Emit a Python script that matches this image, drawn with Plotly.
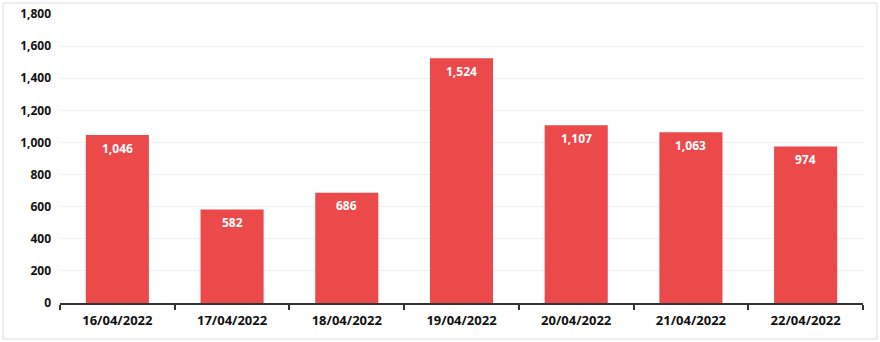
import plotly.graph_objects as go

dates = ["16/04/2022", "17/04/2022", "18/04/2022", "19/04/2022", "20/04/2022", "21/04/2022", "22/04/2022"]
values = [1046, 582, 686, 1524, 1107, 1063, 974]
y_ticks = [0, 200, 400, 600, 800, 1000, 1200, 1400, 1600, 1800]

W, H = 880, 342
ml, mr, mt, mb = 60, 17, 14, 39
pw, ph = W - ml - mr, H - mt - mb

fig = go.Figure(go.Bar(
    x=dates, y=values,
    marker=dict(color="#EC494B", line=dict(width=0)),
    width=0.55,
    hoverinfo="skip",
))

for d, v in zip(dates, values):
    fig.add_annotation(
        x=d, y=v, text=f"{v:,}", showarrow=False,
        yanchor="middle", yshift=-13,
        font=dict(color="white", size=12, family="Open Sans", weight="bold"),
    )

fig.update_layout(
    width=W, height=H,
    margin=dict(l=ml, r=mr, t=mt, b=mb, autoexpand=False),
    paper_bgcolor="white", plot_bgcolor="white",
    showlegend=False,
    bargap=0.45,
    font=dict(family="Open Sans", size=12, color="#222"),
    xaxis=dict(
        automargin=False,
        showline=True, linecolor="#333", linewidth=2,
        ticks="outside", tickson="boundaries", ticklen=5, tickcolor="#333", tickwidth=1.5,
        tickfont=dict(family="Open Sans", size=13, weight="bold", color="#111"),
        ticklabelstandoff=4,
        showgrid=False,
    ),
    yaxis=dict(
        automargin=False,
        range=[0, 1800], tickvals=y_ticks, tickformat=",",
        showgrid=True, gridcolor="#f0f0f0", gridwidth=1,
        zeroline=False, showline=False,
        tickfont=dict(family="Open Sans", size=12, weight="bold", color="#111"),
        ticks="", ticklabelstandoff=8,
    ),
    shapes=[dict(
        type="rect", xref="paper", yref="paper",
        x0=(3 - ml) / pw, x1=(877 - ml) / pw,
        y0=-(339 - mt - ph) / ph, y1=1 + (mt - 3) / ph,
        line=dict(color="#dddddd", width=1), layer="below",
    )],
)

fig.write_html("out.html")
